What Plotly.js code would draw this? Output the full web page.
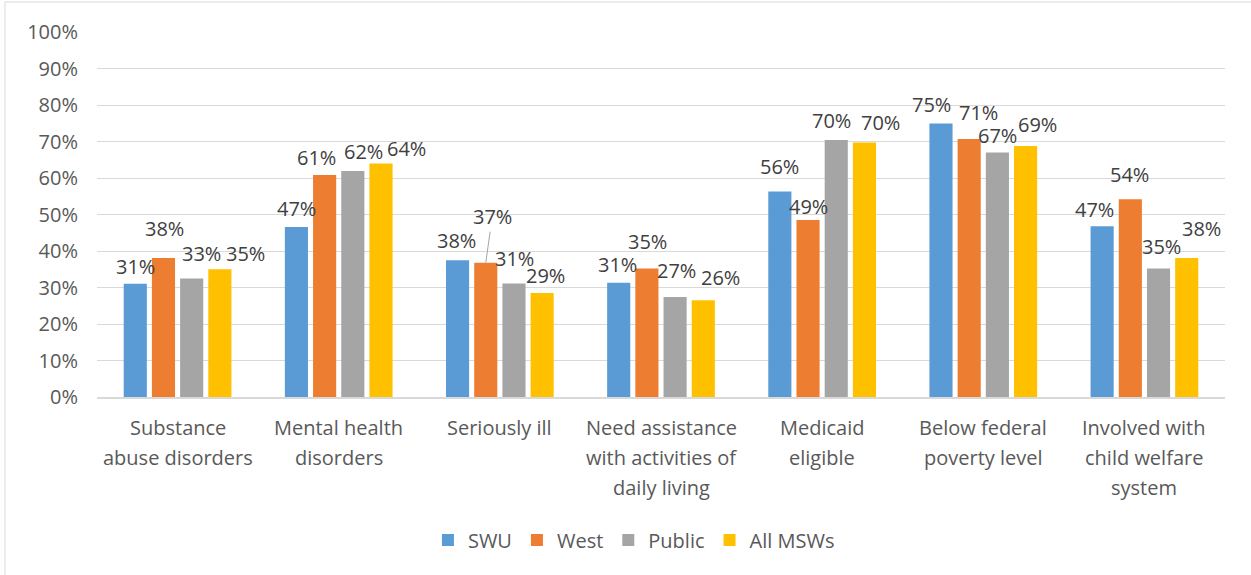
<!DOCTYPE html>
<html>
<head>
<meta charset="utf-8">
<script src="https://cdn.plot.ly/plotly-3.0.1.min.js"></script>
<style>
  html, body { margin: 0; padding: 0; background: #ffffff; }
  #chart { width: 1251px; height: 575px; }
</style>
</head>
<body>
<div id="chart"></div>
<script>
// ---- Data ----
var categories = [
  "Substance abuse disorders",
  "Mental health disorders",
  "Seriously ill",
  "Need assistance with activities of daily living",
  "Medicaid eligible",
  "Below federal poverty level",
  "Involved with child welfare system"
];
var categoryLines = [
  ["Substance", "abuse disorders"],
  ["Mental health", "disorders"],
  ["Seriously ill"],
  ["Need assistance", "with activities of", "daily living"],
  ["Medicaid", "eligible"],
  ["Below federal", "poverty level"],
  ["Involved with", "child welfare", "system"]
];
var seriesNames = ["SWU", "West", "Public", "All MSWs"];
var swu    = [31.0, 46.6, 37.5, 31.3, 56.3, 74.9, 46.8];
var west   = [38.1, 60.8, 36.8, 35.2, 48.5, 70.7, 54.2];
var pub    = [32.5, 61.9, 31.1, 27.4, 70.4, 67.0, 35.2];
var allMsw = [35.0, 64.0, 28.5, 26.5, 69.7, 68.8, 38.1];
var swuLabels    = ["31%", "47%", "38%", "31%", "56%", "75%", "47%"];
var westLabels   = ["38%", "61%", "37%", "35%", "49%", "71%", "54%"];
var pubLabels    = ["33%", "62%", "31%", "27%", "70%", "67%", "35%"];
var allMswLabels = ["35%", "64%", "29%", "26%", "70%", "69%", "38%"];
var yTickVals = [0, 10, 20, 30, 40, 50, 60, 70, 80, 90, 100];
var yTickText = ["0%", "10%", "20%", "30%", "40%", "50%", "60%", "70%", "80%", "90%", "100%"];

// ---- Styling ----
var colors = ["#5B9BD5", "#ED7D31", "#A5A5A5", "#FFC000"];
var seriesValues = [swu, west, pub, allMsw];
var seriesLabels = [swuLabels, westLabels, pubLabels, allMswLabels];
// label placement nudges (pixels): [dx, dy-above-bar-top]
var labelNudges = [
  [[0,17],[0,18],[-1,20],[-1.4,18],[-0.8,25],[-9.3,19],[-7.8,17]],
  [[1.5,29],[-8,18],[6.5,46],[0.4,27],[0,13],[9.1,26],[-1,25]],
  [[10,25],[10.5,20],[1,25],[1.6,26],[-4.5,20],[0.3,17],[3.2,22]],
  [[26,16],[25.7,15],[3,17],[16.7,23],[16.3,20],[12,21],[14.3,29]]
];
var leaderLabel = {series: 1, cat: 2};

var BARGAP = 0.3;
var nS = seriesNames.length;
var slot = (1 - BARGAP) / nS;
var font = "'Open Sans', 'Noto Sans', sans-serif";
var textColor = "#404040";
var axisColor = "#595959";

var traces = seriesNames.map(function (name, s) {
  return {
    type: "bar",
    name: name,
    x: categories,
    y: seriesValues[s],
    marker: {color: colors[s]},
    hoverinfo: "skip"
  };
});

var annotations = [];
for (var s = 0; s < nS; s++) {
  for (var c = 0; c < categories.length; c++) {
    var xPos = c + (s - (nS - 1) / 2) * slot;
    var nd = labelNudges[s][c];
    var isLeader = (s === leaderLabel.series && c === leaderLabel.cat);
    var a = {
      xref: "x", yref: "y",
      x: xPos, y: seriesValues[s][c],
      text: seriesLabels[s][c],
      font: {family: font, size: 20, color: textColor},
      xanchor: "center", yanchor: "middle"
    };
    if (isLeader) {
      a.showarrow = true;
      a.ax = nd[0]; a.ay = -nd[1];
      a.arrowhead = 0; a.arrowwidth = 1; a.arrowcolor = "#A6A6A6";
      a.standoff = 0; a.startstandoff = 0;
    } else {
      a.showarrow = false;
      a.xshift = nd[0]; a.yshift = nd[1];
    }
    annotations.push(a);
  }
}
// category labels, one annotation per line to match Excel line spacing
for (var c2 = 0; c2 < categoryLines.length; c2++) {
  categoryLines[c2].forEach(function (line, k) {
    annotations.push({
      xref: "x", yref: "paper",
      x: c2, y: 0,
      text: line,
      showarrow: false,
      xanchor: "center", yanchor: "middle",
      yshift: -30 * (k + 1),
      font: {family: font, size: 20, color: axisColor}
    });
  });
}

var layout = {
  width: 1251, height: 575,
  margin: {l: 97, r: 26, t: 32, b: 178, pad: 0},
  paper_bgcolor: "#ffffff",
  plot_bgcolor: "#ffffff",
  barmode: "group",
  bargap: BARGAP,
  bargroupgap: 0.18,
  showlegend: true,
  hovermode: false,
  font: {family: font, size: 20, color: axisColor},
  xaxis: {
    type: "category",
    showticklabels: false,
    ticks: "",
    showgrid: false,
    showline: true,
    linecolor: "#D9D9D9",
    linewidth: 1.5,
    zeroline: false,
    fixedrange: true
  },
  yaxis: {
    range: [0, 100],
    tickmode: "array",
    tickvals: yTickVals,
    ticktext: yTickText,
    ticks: "",
    ticklabelstandoff: 18,
    tickfont: {family: font, size: 20, color: axisColor},
    showgrid: true,
    gridcolor: "#D9D9D9",
    gridwidth: 1,
    zeroline: false,
    showline: false,
    fixedrange: true
  },
  legend: {
    orientation: "h",
    x: 0.476, xanchor: "center",
    y: -0.392, yanchor: "middle",
    font: {family: font, size: 20, color: axisColor},
    itemclick: false, itemdoubleclick: false,
    traceorder: "normal"
  },
  annotations: annotations,
  shapes: [
    {type: "line", xref: "paper", yref: "paper",
     x0: -0.0816, x1: -0.0816, y0: -0.49, y1: 1.0822,
     line: {color: "#D9D9D9", width: 1}},
    {type: "line", xref: "paper", yref: "paper",
     x0: -0.0816, x1: 1.03, y0: 1.0822, y1: 1.0822,
     line: {color: "#D9D9D9", width: 1}}
  ]
};

Plotly.newPlot("chart", traces, layout, {displayModeBar: false, staticPlot: true});
</script>
</body>
</html>
